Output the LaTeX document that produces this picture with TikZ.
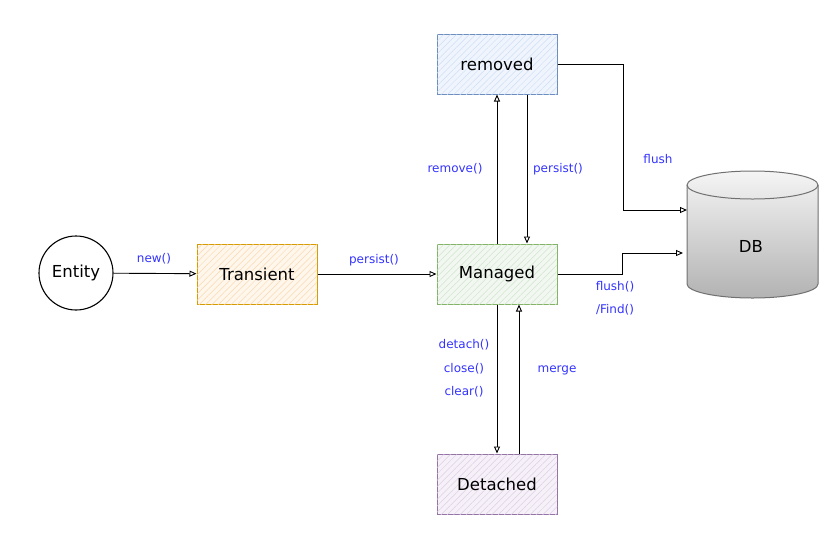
\documentclass[tikz,border=0pt]{standalone}
\usepackage{fontspec}
\setmainfont{DejaVu Sans}
\usetikzlibrary{arrows.meta,patterns.meta,calc}
\definecolor{lblue}{HTML}{3333FF}
\definecolor{orD}{HTML}{D79B00}\definecolor{orF}{HTML}{FFF6EC}\definecolor{orH}{HTML}{FAD9B2}
\definecolor{grD}{HTML}{82B366}\definecolor{grF}{HTML}{F2F8F1}\definecolor{grH}{HTML}{CFE5CB}
\definecolor{blD}{HTML}{6C8EBF}\definecolor{blF}{HTML}{F0F5FD}\definecolor{blH}{HTML}{CFDFF6}
\definecolor{puD}{HTML}{9673A6}\definecolor{puF}{HTML}{F6F1F8}\definecolor{puH}{HTML}{DDD0E4}
\definecolor{dbD}{HTML}{707070}
\tikzset{
  statebox/.style n args={3}{draw=#1, fill=#2, line width=1pt, minimum width=120pt, minimum height=60pt,
     inner sep=0pt, font=\fontsize{16.5}{19}\selectfont,
     postaction={pattern={Lines[angle=45,distance=4.5pt,line width=0.5pt]}, pattern color=#3}},
  arr/.style={-{Triangle[open,length=7pt,width=6pt]}, line width=0.9pt, black},
  lbl/.style={text=lblue, font=\fontsize{12}{14}\selectfont, inner sep=1pt}
}
\begin{document}
\begin{tikzpicture}[x=1pt,y=-1pt]
\useasboundingbox (0,0) rectangle (828,542);
% DB cylinder
\shade[top color=gray!8, bottom color=gray!60, draw=dbD, line width=1pt]
  (687,185) -- (687,284) arc[start angle=180,end angle=360,x radius=65.5pt,y radius=14pt]
  -- (818,185) arc[start angle=0,end angle=180,x radius=65.5pt,y radius=14pt] -- cycle;
\draw[dbD, line width=1pt] (687,185) arc[start angle=180,end angle=360,x radius=65.5pt,y radius=14pt];
\node[font=\fontsize{16.5}{19}\selectfont] (db) at (751,246) {DB};
\coordinate (dbin1) at (687,210);
\coordinate (dbin2) at (683,253);

% nodes
\node[circle, draw, line width=1.1pt, minimum size=74pt, inner sep=0pt, font=\fontsize{16.5}{19}\selectfont] (entity) at (76,273) {Entity};
\node[statebox={orD}{orF}{orH}] (transient) at (257,274) {Transient};
\node[statebox={grD}{grF}{grH}] (managed) at (497,274) {Managed};
\node[statebox={blD}{blF}{blH}] (removed) at (497,64) {removed};
\node[statebox={puD}{puF}{puH}] (detached) at (497,484) {Detached};

% edges
\draw[arr] (entity) -- (transient);
\draw[arr] (transient) -- (managed);
\draw[arr] (managed.north) -- (removed.south);
\draw[arr] ([xshift=30pt]removed.south) -- ([xshift=30pt]managed.north);
\draw[arr] (managed.south) -- (detached.north);
\draw[arr] ([xshift=22pt]detached.north) -- ([xshift=22pt]managed.south);
\draw[arr] (removed.east) -- ++(66,0) |- (dbin1);
\draw[arr] (managed.east) -- ++(65,0) |- (dbin2);

% labels
\node[lbl] (lnew) at (154,259) {new()};
\node[lbl] (lpersist1) at (374,260) {persist()};
\node[lbl] (lremove) at (455,169) {remove()};
\node[lbl] (lpersist2) at (558,169) {persist()};
\node[lbl] (lflush) at (658,159) {flush};
\node[lbl] (lflush2) at (615,287) {flush()};
\node[lbl] (lfind) at (615,310) {/Find()};
\node[lbl] (ldetach) at (464,345) {detach()};
\node[lbl] (lclose) at (464,369) {close()};
\node[lbl] (lclear) at (464,392) {clear()};
\node[lbl] (lmerge) at (557,370) {merge};
\end{tikzpicture}
\end{document}
